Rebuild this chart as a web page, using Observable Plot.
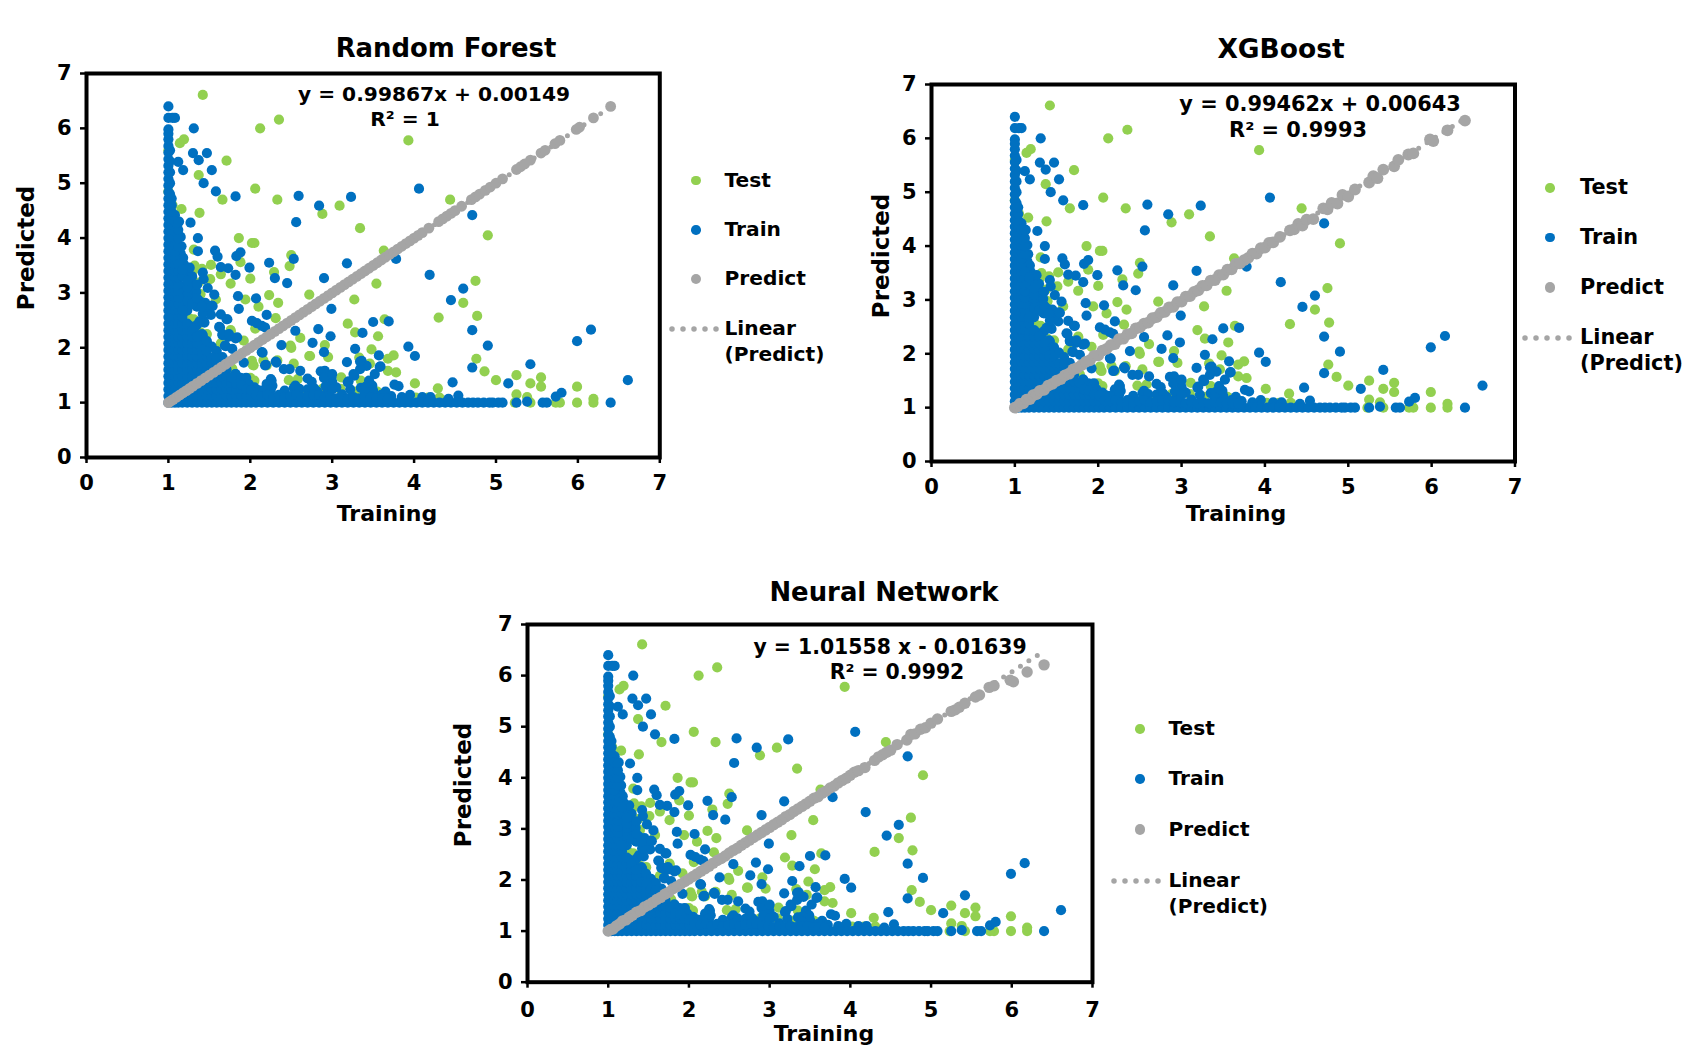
<!DOCTYPE html>
<html><head><meta charset="utf-8">
<script src="https://cdn.jsdelivr.net/npm/d3@7"></script>
<script src="https://cdn.jsdelivr.net/npm/@observablehq/plot@0.6"></script>
<style>
html,body{margin:0;padding:0;background:#fff;overflow:hidden}
#page{position:relative;width:1684px;height:1047px;overflow:hidden;font-family:"DejaVu Sans",sans-serif;font-weight:bold;color:#000}
#page svg{position:absolute;overflow:visible;background:transparent}
.t{position:absolute;white-space:nowrap;line-height:1;transform:translate(-50%,-50%)}
.l{position:absolute;white-space:pre;line-height:26px}
.d{position:absolute;border-radius:50%}
</style></head><body><div id="page"></div>
<script>
const GREEN="#92D050",BLUE="#0070C0",GRAY="#A5A5A5";
const tickValues=[0,1,2,3,4,5,6,7];

const testPoints=[[1.42,6.61],[2.12,6],[2.35,6.16],[3.93,5.78],[1.14,5.73],[1.19,5.8],[1.71,5.41],[1.37,5.15],[2.06,4.9],[1.66,4.7],[2.33,4.7],[3.09,4.59],[2.88,4.44],[4.44,4.7],[1.16,4.53],[1.38,4.46],[3.34,4.18],[4.9,4.05],[1.86,4],[2.02,3.91],[2.05,3.91],[1.31,3.79],[3.63,3.77],[2.5,3.69],[2.48,3.49],[1.13,3.62],[1.88,3.56],[1.31,3.47],[1.52,3.51],[1.3,3.4],[2.29,3.38],[1.64,3.34],[1.51,3.25],[1.76,3.17],[2,3.26],[1.37,3.19],[3.54,3.17],[4.75,3.22],[2.72,2.97],[2.23,2.96],[1.39,2.97],[3.27,2.88],[2.34,2.82],[1.94,2.88],[1.58,2.88],[2.1,2.75],[4.6,2.82],[2.31,2.54],[4.77,2.58],[4.3,2.55],[3.64,2.52],[3.19,2.44],[1.25,2.54],[1.31,2.52],[2.06,2.35],[1.76,2.32],[3.28,2.28],[1.47,2.25],[3.56,2.21],[2.61,2.18],[2.91,2.05],[2.5,2],[3.48,1.97],[2.72,1.85],[2.95,1.83],[3.75,1.86],[3.68,1.8],[3.33,1.82],[4.76,1.8],[3.46,1.71],[2.53,1.71],[2.03,1.69],[3.68,1.58],[3.78,1.55],[4.86,1.57],[5.25,1.5],[5.55,1.46],[5,1.41],[4.01,1.35],[5.42,1.35],[5.55,1.29],[5.99,1.29],[4.29,1.26],[5.25,1.15],[5.38,1.1],[6.19,1.07],[6.19,1],[5.99,1],[5.78,1],[5.73,1],[5.42,1],[5.23,1],[2.47,1.41],[2.58,1.43],[2,1.45],[2.05,1.4],[3.11,1.46],[3.35,1.4],[3.28,1.2],[4.02,1.09],[4.17,1.09],[4.31,1.09],[3.85,1.07],[1,5.6],[1,4.85],[1.05,4.6],[1.125,3.65],[1.32,3.5],[1.41,3.44],[1.39,2.98],[1.15,2.8],[1.27,2.52],[1.39,2.28],[1.27,1.9],[1.19,1.7],[1.76,2.3],[1.92,2.13],[2.02,1.76],[2.04,1.68],[2.16,1.77],[2.2,1.68],[2.33,1.77],[1.8,1.44],[2.04,1.38],[2.16,1.17],[2.49,2.04],[2.73,1.85],[2.62,1.2],[2.88,1.25],[3.1,1.25],[3.55,1.2],[1.78,1.62],[1.64,2.08]];

const trainPoints=[[1,6.4],[1,6.19],[1.05,6.19],[1.08,6.19],[1,5.98],[1.31,6],[1.3,5.55],[1.47,5.55],[1.37,5.42],[1.12,5.39],[1.18,5.24],[1.53,5.24],[1.43,5],[1.58,4.85],[1.82,4.76],[2.59,4.77],[2.84,4.59],[3.23,4.75],[4.06,4.9],[2.56,4.29],[1.27,4.28],[4.71,4.42],[1.36,4],[1.36,3.76],[1.57,3.77],[1.6,3.66],[1.88,3.74],[1.83,3.67],[2.53,3.62],[2.23,3.55],[3.18,3.54],[3.78,3.62],[1.19,3.52],[1.64,3.47],[1.73,3.45],[1.99,3.46],[1.42,3.37],[1.82,3.33],[1.23,3.28],[2.3,3.27],[2.9,3.27],[2.45,3.18],[4.19,3.33],[1.43,3.25],[4.6,3.08],[1.48,3.09],[1.56,2.97],[1.85,2.94],[2.07,2.9],[4.45,2.87],[1.28,3.03],[1.45,2.82],[1.54,2.76],[1.86,2.71],[2.99,2.71],[1.35,2.75],[1.21,2.67],[1.52,2.6],[2.2,2.6],[1.64,2.61],[1.71,2.52],[1.44,2.46],[2.02,2.49],[2.08,2.45],[2.14,2.4],[2.18,2.37],[3.5,2.47],[3.69,2.48],[1.63,2.37],[2.55,2.31],[2.83,2.34],[3.37,2.27],[2.98,2.21],[4.71,2.32],[6.16,2.33],[5.99,2.12],[4.9,2.04],[1.66,2.23],[1.73,2.2],[1.82,2.17],[1.42,2.23],[2.76,2.09],[3.28,1.98],[2.38,2.05],[1.7,2.03],[3.93,2.02],[4.01,1.85],[1.47,2],[2.9,1.92],[3.57,1.86],[2.15,1.91],[5.42,1.7],[3.18,1.74],[3.58,1.65],[4.71,1.64],[3.36,1.76],[3.42,1.67],[2.31,1.75],[2.18,1.68],[1.92,1.73],[2.41,1.61],[2.48,1.61],[2.61,1.58],[1.82,1.52],[1.92,1.44],[2.7,1.44],[2.75,1.38],[2.86,1.57],[2.91,1.58],[2.99,1.46],[3,1.38],[3.19,1.37],[3.27,1.49],[3.52,1.52],[3.45,1.4],[3.76,1.33],[3.81,1.3],[3.35,1.27],[3.48,1.3],[4.47,1.37],[5.15,1.35],[6.61,1.41],[5.73,1.11],[5.8,1.18],[4.54,1.13],[6.4,1],[2.26,1.4],[2.25,1.33],[2.09,1.23],[2.53,1.27],[2.82,1.2],[2.94,1.2],[3.12,1.15],[3.34,1.61],[3.43,1.28],[2.25,1.43],[2.27,1.31],[2.2,1.34],[1.88,1.45],[1.95,1.45],[2.55,1.31],[2.6,1.25],[1.66,1.83],[1.41,2.25],[1.72,2.52],[1.43,2.49],[1.47,2.67],[1.53,2.77],[1.34,2.76],[1.62,2.38],[1.66,2.25],[1.74,2.25],[1.84,2.19],[1.69,2.04],[1.78,1.98],[1.31,1.83],[1.52,1.79],[2.14,1.92],[2.19,1.69],[2.32,1.73],[1.82,1.52],[2.9,1.45],[3,1.52],[3.2,1.39],[3.26,1.52],[3.34,1.75],[3.59,1.66],[3.49,1.31],[3.41,1.29],[2.92,1.3],[3.05,1.28],[3.65,1.2],[3.95,1.14],[4.1,1.1],[4.2,1.1],[4.42,1.07],[5.38,1.02],
[1.2,3.4],[1.26,3.3],[1.3,3.15],[1.18,3.05],[1.25,2.95],[1.3,2.9],[1.38,2.85],[1.2,2.75],[1.14,2.65],[1.34,3.02],[1.38,2.48],[1.42,2.62],[1.02,5.6],[1.02,5.4],[1.02,5.2],[1.02,5],[1.02,4.8],[1.1,4.2],[1.15,4.02],[1.16,3.85],
[2.05,1.28],[2.25,1.24],[2.42,1.22],[2.7,1.24],[2.78,1.26],[3,1.24],[3.22,1.24],[3.5,1.22],[3.6,1.14],[3.72,1.12],[3.85,1.1],[3.4,1.18],[1.98,1.34],[2.14,1.22],
[1.17,2.85],[1.17,2.97],[1.17,3.12],[1.23,2.68],[1.23,2.85],[1.23,3.02],[1.29,2.8],[1.29,3.3],[1.35,2.42],[1.35,2.9],[1.35,3.15],[1.41,2.12],[1.41,2.75],[1.12,3.64],[1.15,3.72],[1.08,4.42],[1.13,4.3],[1.18,3.64],[1.26,3.46],[1.47,2.12],[1.53,2.02],[1.59,1.94],[1.26,2.4],[1.32,2.36]];

// the saturated wedge in the corner, column by column
const wedgeX=[1,1.04,1.08,1.12,1.17,1.23,1.29,1.35,1.41,1.47,1.53,1.59,1.65,1.71,1.77,1.83,1.89,1.95,2.01];
const wedgeY=[
[1,1.12,1.24,1.36,1.48,1.6,1.72,1.84,1.96,2.08,2.2,2.32,2.44,2.56,2.68,2.8,2.92,3.04,3.16,3.28,3.4,3.52,3.64,3.76,3.88,4,4.12,4.24,4.36,4.48,4.6,4.72,4.84,4.96,5.08,5.2,5.32,5.44,5.56,5.68,5.8,5.9],
[1,1.12,1.24,1.36,1.48,1.6,1.72,1.84,1.96,2.08,2.2,2.32,2.44,2.56,2.68,2.8,2.92,3.04,3.16,3.28,3.4,3.52,3.64,3.76,3.88,4,4.12,4.24,4.36,4.48,4.6,4.72],
[1,1.12,1.24,1.36,1.48,1.6,1.72,1.84,1.96,2.08,2.2,2.32,2.44,2.56,2.68,2.8,2.92,3.04,3.16,3.28,3.4,3.52,3.64,3.76,3.88,4,4.12,4.3],
[1,1.12,1.24,1.36,1.48,1.6,1.72,1.84,1.96,2.08,2.2,2.32,2.44,2.56,2.68,2.8,2.92,3.04,3.16,3.28,3.4,3.52,3.85,4,4.15,4.29],
[1,1.12,1.24,1.36,1.48,1.6,1.72,1.84,1.96,2.08,2.2,2.32,2.44,2.56,2.68,3.3,3.42],
[1,1.12,1.24,1.36,1.48,1.6,1.72,1.84,1.96,2.08,2.2,2.32,2.44,3.1,3.22],
[1,1.12,1.24,1.36,1.48,1.6,1.72,1.84,1.96,2.08,2.2,2.32],
[1,1.12,1.24,1.36,1.48,1.6,1.72,1.84,1.96,2.08,2.2],
[1,1.12,1.24,1.36,1.48,1.6,1.72,1.84,1.96],
[1,1.12,1.24,1.36,1.48,1.6,1.72,1.84,1.94],
[1,1.12,1.24,1.36,1.48,1.6,1.72,1.82],
[1,1.12,1.24,1.36,1.48,1.6,1.72,1.8],
[1,1.12,1.24,1.36,1.48,1.6,1.7],
[1,1.12,1.24,1.36,1.48,1.6],
[1,1.12,1.24,1.36,1.46],
[1,1.12,1.24,1.34],
[1,1.12,1.24,1.32],
[1,1.12,1.24],
[1,1.12,1.22]];
const bandLowX=[2.07,2.14,2.21,2.28,2.35,2.42,2.49,2.56,2.63,2.7,2.77,2.84,2.91,2.98,3.05,3.12,3.19,3.26,3.33,3.4,3.47,3.54,3.61,3.68,3.75,3.82,3.89,3.96,4.03,4.1,4.17,4.24,4.31,4.38,4.45,4.52,4.59,4.66,4.72,4.78,4.85,4.92,4.96,5.03,5.08,5.25,5.57,5.62];
const bandHighX=[2.07,2.14,2.21,2.28,2.35,2.42,2.49,2.56,2.63,2.7,2.77,2.84,2.91,2.98,3.05,3.12,3.19,3.26,3.33,3.4,3.47,3.54,3.61,3.68];
const bandHighY=[1.14,1.12,1.14,1.1,1.14,1.1,1.12,1.14,1.1,1.12,1.14,1.14,1.1,1.1,1.08,1.1,1.08,1.1,1.08,1.1,1.1,1.08,1.08,1.07];

const predictX=[1,1.03,1.06,1.1,1.14,1.18,1.22,1.26,1.3,1.35,
1.4,1.45,1.5,1.55,1.6,1.65,1.7,1.75,1.8,1.85,
1.9,1.95,2,2.05,2.1,2.15,2.2,2.25,2.3,2.35,
2.4,2.45,2.5,2.55,2.6,2.65,2.7,2.75,2.8,2.85,
2.9,2.95,3,3.05,3.1,3.15,3.2,3.25,3.3,3.35,
3.4,3.45,3.5,3.55,3.6,3.65,3.7,3.75,3.8,3.85,
3.9,3.95,4,4.05,4.1,4.18,4.3,4.35,4.4,4.45,
4.5,4.58,4.7,4.75,4.8,4.87,4.93,5,5.08,5.25,
5.3,5.35,5.42,5.55,5.6,5.72,5.78,5.98,6.02,6.19,
6.4];
const predictRF=[1,1.03,1.06,1.1,1.14,1.18,1.22,1.26,1.3,1.35,
1.4,1.45,1.5,1.55,1.6,1.65,1.7,1.75,1.8,1.85,
1.9,1.95,2,2.05,2.1,2.15,2.2,2.25,2.3,2.35,
2.4,2.45,2.5,2.55,2.6,2.65,2.7,2.75,2.8,2.85,
2.9,2.95,3,3.05,3.1,3.15,3.2,3.25,3.3,3.35,
3.4,3.45,3.5,3.55,3.6,3.65,3.7,3.75,3.8,3.85,
3.9,3.95,4,4.05,4.1,4.18,4.3,4.35,4.4,4.45,
4.5,4.58,4.7,4.75,4.8,4.87,4.93,5,5.08,5.25,
5.3,5.35,5.42,5.55,5.6,5.72,5.78,5.98,6.02,6.19,
6.4];
const predictXGB=[1,1.02,1.07,1.08,1.15,1.16,1.23,1.25,1.31,1.33,
1.41,1.44,1.5,1.53,1.6,1.63,1.71,1.74,1.79,1.85,
1.88,1.96,1.97,2.06,2.09,2.16,2.18,2.27,2.28,2.36,
2.38,2.47,2.49,2.56,2.58,2.66,2.68,2.76,2.78,2.86,
2.87,2.96,2.97,3.06,3.07,3.15,3.18,3.26,3.27,3.36,
3.37,3.46,3.47,3.56,3.57,3.67,3.68,3.74,3.78,3.86,
3.86,3.96,3.97,4.06,4.07,4.17,4.29,4.31,4.41,4.38,
4.49,4.5,4.7,4.68,4.8,4.79,4.95,4.92,5.05,5.18,
5.3,5.26,5.42,5.48,5.6,5.7,5.72,5.98,5.95,6.15,
6.33];
const predictNN=[1,1.03,1.04,1.1,1.14,1.2,1.22,1.27,1.31,1.37,
1.4,1.47,1.51,1.56,1.62,1.66,1.72,1.76,1.83,1.87,
1.92,1.97,2.02,2.07,2.12,2.17,2.22,2.27,2.33,2.38,
2.42,2.47,2.53,2.58,2.62,2.68,2.73,2.78,2.83,2.88,
2.93,2.98,3.03,3.08,3.13,3.18,3.24,3.28,3.34,3.39,
3.44,3.49,3.54,3.6,3.63,3.7,3.74,3.8,3.84,3.9,
3.95,3.99,4.05,4.11,4.14,4.2,4.34,4.41,4.45,4.5,
4.54,4.65,4.74,4.85,4.86,4.95,4.98,5.07,5.15,5.3,
5.33,5.38,5.46,5.58,5.62,5.77,5.8,5.91,5.88,6.07,
6.21];

const trendX=[1,6.4];
const trendRF=[1,6.39];
const trendXGB=[1,6.37];
const trendNN=[1,6.48];

const panels=[
 {title:"Random Forest",titleSize:25.9,titleAt:[446,49],eq:"y = 0.99867x + 0.00149",eqSize:20.2,eqAt:[434,93.5],r2:"R² = 1",r2At:[405,119],
  frame:[86,659.3,72.7,456.7],py:predictRF,ty:trendRF,pr:5.4,xlab:[387,513.5],ylab:[26,248],xpad:12,
  leg:{size:20.2,dot:696,text:724.5,ys:[180.7,230,279.3,328.7],line:[672,717]}},
 {title:"XGBoost",titleSize:26.5,titleAt:[1281,49],eq:"y = 0.99462x + 0.00643",eqSize:20.9,eqAt:[1320,104],r2:"R² = 0.9993",r2At:[1298,130],
  frame:[931,1514.5,83.8,460.8],py:predictXGB,ty:trendXGB,pr:5.9,xlab:[1236,513.5],ylab:[881,255.6],xpad:12,
  leg:{size:20.8,dot:1550,text:1580,ys:[188,237.5,287.5,338],line:[1525,1574]}},
 {title:"Neural Network",titleSize:25.9,titleAt:[884,593],eq:"y = 1.01558 x - 0.01639",eqSize:20.4,eqAt:[890,646.6],r2:"R² = 0.9992",r2At:[897,672],
  frame:[527,1092,624,981.7],py:predictNN,ty:trendNN,pr:5.7,xlab:[824,1034],ylab:[463,785],xpad:14,
  leg:{size:20.1,dot:1140,text:1168.5,ys:[729,779,829.5,881],line:[1114,1162]}}
];

const train=[...trainPoints];
wedgeX.forEach((x,i)=>wedgeY[i].forEach(y=>train.push([x,y])));
bandLowX.forEach(x=>train.push([x,1]));
bandHighX.forEach((x,i)=>train.push([x,bandHighY[i]]));

const page=document.getElementById("page");
function txt(s,[x,y],size,rot){
  const e=document.createElement("div");e.className="t";e.textContent=s;
  e.style.left=x+"px";e.style.top=y+"px";e.style.fontSize=size+"px";
  if(rot)e.style.transform=`translate(-50%,-50%) rotate(${rot}deg)`;
  page.appendChild(e);
}
function legendDot(x,y,r,c){
  const e=document.createElement("div");e.className="d";
  e.style.cssText+=`left:${x-r}px;top:${y-r}px;width:${2*r}px;height:${2*r}px;background:${c}`;
  page.appendChild(e);
}
function legendText(s,x,y,size){
  const e=document.createElement("div");e.className="l";e.textContent=s;
  e.style.left=x+"px";e.style.top=(y-14)+"px";e.style.fontSize=size+"px";page.appendChild(e);
}

for(const p of panels){
  const [L,R,T,B]=p.frame, ml=50,mr=8,mt=8,mb=40;
  const pred=predictX.map((x,i)=>[x,p.py[i]]);
  const trend=trendX.map((x,i)=>[x,p.ty[i]]);
  const svg=Plot.plot({
    width:(R-L)+ml+mr,height:(B-T)+mt+mb,
    marginLeft:ml,marginRight:mr,marginTop:mt,marginBottom:mb,
    style:{fontFamily:"'DejaVu Sans',sans-serif",fontWeight:"bold",fontSize:"21px",color:"#000",background:"transparent",overflow:"visible"},
    x:{domain:[0,7],axis:null},y:{domain:[0,7],axis:null},
    marks:[
      Plot.dot(testPoints,{x:d=>d[0],y:d=>d[1],r:5.1,fill:GREEN}),
      Plot.dot(train,{x:d=>d[0],y:d=>d[1],r:5.1,fill:BLUE}),
      Plot.line(trend,{x:d=>d[0],y:d=>d[1],stroke:GRAY,strokeWidth:5,strokeLinecap:"round",strokeDasharray:"0 10"}),
      Plot.dot(pred,{x:d=>d[0],y:d=>d[1],r:p.pr,fill:GRAY}),
      Plot.frame({stroke:"#000",strokeWidth:4}),
      Plot.axisX({ticks:tickValues,tickSize:6,strokeWidth:2.5,tickPadding:p.xpad,label:null,tickFormat:d3.format("d"),fill:"#000",stroke:"#000"}),
      Plot.axisY({ticks:tickValues,tickSize:6,strokeWidth:2.5,tickPadding:9,label:null,tickFormat:d3.format("d"),fill:"#000",stroke:"#000"})
    ]
  });
  svg.style.left=(L-ml)+"px";svg.style.top=(T-mt)+"px";
  page.appendChild(svg);
  txt(p.title,p.titleAt,p.titleSize);
  txt(p.eq,p.eqAt,p.eqSize);
  txt(p.r2,p.r2At,p.eqSize);
  txt("Training",p.xlab,22);
  txt("Predicted",p.ylab,22.9,-90);
  const g=p.leg;
  legendDot(g.dot,g.ys[0],4.8,GREEN);legendText("Test",g.text,g.ys[0],g.size);
  legendDot(g.dot,g.ys[1],4.8,BLUE);legendText("Train",g.text,g.ys[1],g.size);
  legendDot(g.dot,g.ys[2],5.2,GRAY);legendText("Predict",g.text,g.ys[2],g.size);
  const ns="http://www.w3.org/2000/svg",s=document.createElementNS(ns,"svg");
  s.setAttribute("width",g.line[1]-g.line[0]+8);s.setAttribute("height",10);
  s.style.left=(g.line[0]-4)+"px";s.style.top=(g.ys[3]-5)+"px";
  const ln=document.createElementNS(ns,"line");
  ln.setAttribute("x1",4);ln.setAttribute("x2",g.line[1]-g.line[0]+4);ln.setAttribute("y1",5);ln.setAttribute("y2",5);
  ln.setAttribute("stroke",GRAY);ln.setAttribute("stroke-width",5.5);ln.setAttribute("stroke-linecap","round");ln.setAttribute("stroke-dasharray","0 11");
  s.appendChild(ln);page.appendChild(s);
  legendText("Linear\n(Predict)",g.text,g.ys[3],g.size);
}
</script></body></html>
